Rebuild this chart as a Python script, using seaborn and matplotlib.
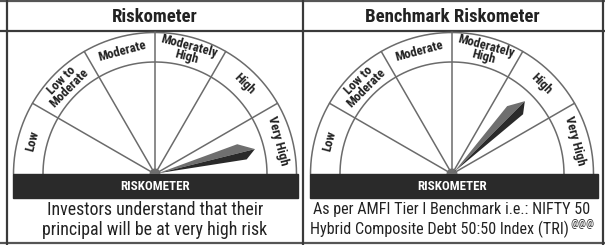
import numpy as np
import matplotlib
matplotlib.use("Agg")
import matplotlib.pyplot as plt
from matplotlib import font_manager
import seaborn as sns

# ---- data ----
risk_levels = ["Low", "Low to\nModerate", "Moderate", "Moderately\nHigh", "High", "Very High"]
panel_titles = ["Riskometer", "Benchmark Riskometer"]
needle_angles = [14, 45]          # needle direction in degrees (0 = right, 180 = left)
bar_label = "RISKOMETER"
captions = [
    ["Investors understand that their", "principal will be at very high risk"],
    ["As per AMFI Tier I Benchmark i.e.: NIFTY 50", "Hybrid Composite Debt 50:50 Index (TRI)"],
]
caption_super = ["", "@@@"]

sns.set_theme(style="white")
names = {f.name for f in font_manager.fontManager.ttflist}
narrow = "DejaVu Sans"
for cand in ["Roboto Condensed", "Archivo Narrow", "Liberation Sans Narrow",
             "Barlow Semi Condensed", "PT Sans Narrow", "Roboto"]:
    if cand in names:
        narrow = cand
        break
plt.rcParams["font.family"] = [narrow, "DejaVu Sans"]

fig = plt.figure(figsize=(6.05, 2.45), dpi=100)
ax = fig.add_axes([0, 0, 1, 1])
ax.set_xlim(0, 605)
ax.set_ylim(245, 0)
ax.axis("off")

border = "#3a3a3a"
# table borders
ax.plot([0, 605], [1.5, 1.5], color="#555555", lw=1.6)
ax.plot([0, 605], [30.8, 30.8], color=border, lw=1.6)
ax.plot([0, 605], [243, 243], color="#555555", lw=1.6)
ax.plot([6.5, 6.5], [0, 245], color=border, lw=1.6)
ax.plot([302.7, 302.7], [0, 245], color=border, lw=1.6)
ax.plot([603.2, 603.2], [0, 245], color=border, lw=1.6)

centers = [155.0, 452.0]
cy = 174.0
R_out, R_in = 141.5, 112.0
bars = [(13, 297.5), (309.5, 598)]
linec = "#6b6b6b"

for k in range(2):
    cx = centers[k]
    # title
    ax.text(cx, 16.5, panel_titles[k], ha="center", va="center", fontsize=13.5,
            fontweight="bold", color="#222222")
    # arcs
    t = np.linspace(0, np.pi, 300)
    for r in (R_out, R_in):
        ax.plot(cx + r * np.cos(t), cy - r * np.sin(t), color=linec, lw=1.1)
    # dividers
    n = len(risk_levels)
    step = 180.0 / n
    for i in range(1, n):
        a = np.radians(i * step)
        ax.plot([cx, cx + R_out * np.cos(a)], [cy, cy - R_out * np.sin(a)],
                color=linec, lw=1.1)
    # labels
    rm = (R_out + R_in) / 2
    for i, lab in enumerate(risk_levels):
        th = 180 - (i + 0.5) * step
        a = np.radians(th)
        ax.text(cx + rm * np.cos(a), cy - rm * np.sin(a), lab, rotation=th - 90,
                rotation_mode="anchor", ha="center", va="center", fontsize=9.3,
                fontweight="bold", color="#222222", linespacing=0.82)
    # dark bar
    x0, x1 = bars[k]
    ax.add_patch(plt.Rectangle((x0, cy), x1 - x0, 24, color="#2a2a2a", zorder=3))
    ax.text(cx, cy + 12.5, bar_label, ha="center", va="center", fontsize=9.4,
            fontweight="bold", color="white", zorder=4)
    # hub
    th_h = np.linspace(0, np.pi, 60)
    ax.fill(cx + 5.5 * np.cos(th_h), cy - 5.5 * np.sin(th_h), color="#6e6e6e", zorder=5, lw=0)
    # needle
    a = np.radians(needle_angles[k])
    u = np.array([np.cos(a), np.sin(a)])
    p = np.array([-np.sin(a), np.cos(a)])
    def pt(al, pe):
        v = al * u + pe * p
        return (cx + v[0], cy - v[1])
    base = pt(3, 0)
    up = pt(87, 9)
    tip = pt(103, 0)
    lo = pt(92.5, -8)
    ax.add_patch(plt.Polygon([base, up, tip], closed=True, color="#6f6f6f", lw=0, zorder=6))
    ax.add_patch(plt.Polygon([base, tip, lo], closed=True, color="#2a2a2a", lw=0, zorder=6))

# captions
fs_cap = [12.9, 11.6]
r = fig.canvas.get_renderer()
inv = ax.transData.inverted()
for k in range(2):
    cx = centers[k]
    for j, line in enumerate(captions[k]):
        y = 209.5 + j * 20
        if j == 1 and caption_super[k]:
            tmain = ax.text(0, y, line, ha="left", va="center", fontsize=fs_cap[k],
                            color="#222222")
            tsup = ax.text(0, y - 5.5, caption_super[k], ha="left", va="center",
                           fontsize=7.5, color="#222222")
            fig.canvas.draw()
            b1 = tmain.get_window_extent(r)
            b2 = tsup.get_window_extent(r)
            w1 = inv.transform((b1.x1, 0))[0] - inv.transform((b1.x0, 0))[0]
            w2 = inv.transform((b2.x1, 0))[0] - inv.transform((b2.x0, 0))[0]
            start = cx - (w1 + w2 + 1) / 2
            tmain.set_x(start)
            tsup.set_x(start + w1 + 1)
        else:
            ax.text(cx, y, line, ha="center", va="center", fontsize=fs_cap[k],
                    color="#222222")

fig.savefig("out.png", dpi=100)
